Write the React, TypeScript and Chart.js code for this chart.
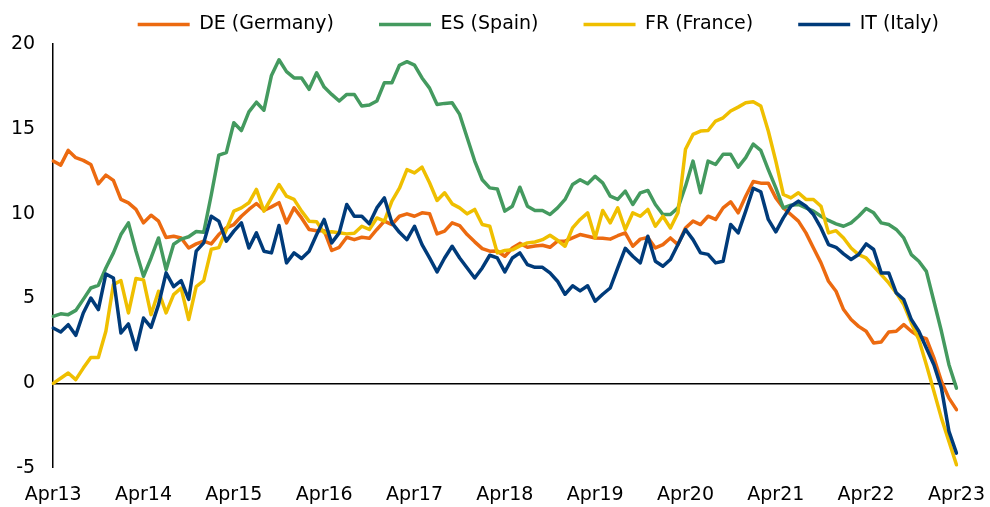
import React, { useEffect, useRef } from 'react';
import { Chart, registerables } from 'chart.js';

Chart.register(...registerables);

const monthNames = ['Jan', 'Feb', 'Mar', 'Apr', 'May', 'Jun', 'Jul', 'Aug', 'Sep', 'Oct', 'Nov', 'Dec'];
const startYear = 13;
const startMonthIndex = 3; // April
const monthCount = 121;

const categories: string[] = [];
for (let i = 0; i < monthCount; i++) {
  const m = startMonthIndex + i;
  categories.push(monthNames[m % 12] + (startYear + Math.floor(m / 12)));
}

const tickLabels = ['Apr13', 'Apr14', 'Apr15', 'Apr16', 'Apr17', 'Apr18', 'Apr19', 'Apr20', 'Apr21', 'Apr22', 'Apr23'];

const seriesNames = ['DE (Germany)', 'ES (Spain)', 'FR (France)', 'IT (Italy)'];
const seriesColors = ['#EC6A10', '#449A5F', '#EFBF00', '#003B7A'];

const deValues = [
  13.1, 12.86, 13.73, 13.3, 13.14, 12.9, 11.76, 12.27, 11.96, 10.84,
  10.64, 10.25, 9.46, 9.91, 9.56, 8.6, 8.67, 8.57, 7.98, 8.22,
  8.38, 8.22, 8.77, 9.16, 9.36, 9.85, 10.25, 10.6, 10.2, 10.4,
  10.65, 9.46, 10.34, 9.75, 9.07, 9.0, 9.0, 7.83, 8.02, 8.61,
  8.47, 8.61, 8.55, 9.07, 9.56, 9.36, 9.85, 9.99, 9.85, 10.05,
  10.0, 8.81, 8.97, 9.46, 9.3, 8.77, 8.34, 7.94, 7.79, 7.8,
  7.49, 7.98, 8.25, 8.02, 8.1, 8.14, 8.02, 8.38, 8.38, 8.57,
  8.77, 8.67, 8.57, 8.55, 8.5, 8.7, 8.87, 8.08, 8.5, 8.6,
  7.98, 8.18, 8.57, 8.18, 9.16, 9.56, 9.36, 9.85, 9.66, 10.34,
  10.7, 10.05, 11.03, 11.9, 11.8, 11.8, 10.93, 10.34, 9.95, 9.56,
  8.87, 7.98, 7.1, 6.02, 5.43, 4.35, 3.76, 3.36, 3.07, 2.38,
  2.44, 3.03, 3.07, 3.46, 3.07, 2.77, 2.63, 1.5, 0.12, -0.87,
  -1.55,
];

const esValues = [
  3.95, 4.1, 4.05, 4.3, 4.95, 5.62, 5.78, 6.8, 7.69, 8.77,
  9.46, 7.79, 6.31, 7.39, 8.57, 6.7, 8.2, 8.5, 8.64, 8.95,
  8.9, 11.1, 13.45, 13.6, 15.36, 14.9, 16.0, 16.57, 16.1, 18.15,
  19.07, 18.37, 18.0, 18.0, 17.33, 18.3, 17.46, 17.03, 16.64, 17.03,
  17.03, 16.34, 16.4, 16.64, 17.72, 17.72, 18.75, 18.96, 18.76, 18.0,
  17.4, 16.44, 16.5, 16.54, 15.85, 14.47, 13.1, 12.0, 11.52, 11.46,
  10.15, 10.44, 11.56, 10.44, 10.19, 10.19, 9.95, 10.34, 10.84, 11.72,
  12.0, 11.76, 12.2, 11.82, 11.03, 10.84, 11.33, 10.54, 11.23, 11.37,
  10.54, 9.95, 9.95, 10.34, 11.62, 13.1, 11.23, 13.1, 12.9, 13.5,
  13.5, 12.74, 13.3, 14.1, 13.73, 12.6, 11.52, 10.34, 10.5, 10.54,
  10.34, 10.15, 9.85, 9.6, 9.4, 9.26, 9.46, 9.85, 10.3, 10.05,
  9.46, 9.36, 9.07, 8.57, 7.59, 7.2, 6.6, 4.84, 3.07, 1.1,
  -0.28,
];

const frValues = [
  0.0, 0.3, 0.61, 0.22, 0.9, 1.53, 1.53, 3.07, 5.82, 6.06,
  4.15, 6.18, 6.1, 4.05, 5.43, 4.15, 5.23, 5.62, 3.76, 5.7,
  6.05, 7.9, 8.0, 9.05, 10.15, 10.34, 10.64, 11.43, 10.15, 10.93,
  11.72, 11.03, 10.84, 10.15, 9.56, 9.53, 8.87, 8.93, 8.87, 8.81,
  8.85, 9.26, 9.07, 9.75, 9.56, 10.74, 11.5, 12.6, 12.4, 12.74,
  11.82, 10.78, 11.23, 10.58, 10.34, 9.99, 10.25, 9.36, 9.26, 7.69,
  7.83, 7.87, 8.1, 8.28, 8.33, 8.47, 8.73, 8.43, 8.08, 9.16,
  9.66, 10.05, 8.57, 10.19, 9.46, 10.34, 9.07, 10.05, 9.85, 10.25,
  9.26, 9.85, 9.16, 10.05, 13.8, 14.67, 14.87, 14.9, 15.46, 15.65,
  16.05, 16.28, 16.54, 16.6, 16.34, 14.87, 13.1, 11.13, 10.93, 11.23,
  10.84, 10.84, 10.44, 8.87, 9.0, 8.57, 7.98, 7.59, 7.39, 6.9,
  6.41, 5.92, 5.33, 4.64, 3.56, 2.58, 1.1, -0.47, -2.05, -3.42,
  -4.8,
];

const itValues = [
  3.26, 3.03, 3.46, 2.83, 4.15, 5.03, 4.35, 6.45, 6.21, 2.97,
  3.5, 1.99, 3.85, 3.3, 4.64, 6.51, 5.7, 6.05, 4.95, 7.79,
  8.28, 9.85, 9.56, 8.38, 8.97, 9.46, 7.98, 8.87, 7.79, 7.69,
  9.3, 7.1, 7.69, 7.36, 7.79, 8.77, 9.66, 8.28, 8.87, 10.54,
  9.85, 9.85, 9.4, 10.34, 10.93, 9.46, 8.9, 8.47, 9.26, 8.18,
  7.39, 6.57, 7.39, 8.08, 7.39, 6.8, 6.21, 6.8, 7.55, 7.39,
  6.57, 7.39, 7.69, 7.0, 6.84, 6.84, 6.51, 6.02, 5.25, 5.75,
  5.45, 5.75, 4.84, 5.25, 5.62, 6.8, 7.96, 7.49, 7.1, 8.67,
  7.2, 6.9, 7.3, 8.18, 9.07, 8.47, 7.69, 7.6, 7.1, 7.2,
  9.36, 8.87, 10.15, 11.5, 11.29, 9.66, 8.93, 9.75, 10.44, 10.74,
  10.44, 9.95, 9.16, 8.18, 8.02, 7.63, 7.3, 7.59, 8.22, 7.89,
  6.51, 6.51, 5.33, 4.94, 3.76, 3.07, 2.08, 1.1, -0.28, -2.83,
  -4.11,
];

const seriesValues = [deValues, esValues, frValues, itValues];

const FONT_FAMILY = '"DejaVu Sans", sans-serif';

export default function App() {
  const canvasRef = useRef<HTMLCanvasElement>(null);

  useEffect(() => {
    const canvas = canvasRef.current;
    if (!canvas) return;

    const datasets = seriesNames.map((name, i) => ({
      label: name,
      data: seriesValues[i],
      borderColor: seriesColors[i],
      backgroundColor: seriesColors[i],
      borderWidth: 3.5,
      borderCapStyle: 'round' as const,
      borderJoinStyle: 'round' as const,
      pointRadius: 0,
      pointHoverRadius: 0,
      tension: 0,
      fill: false,
      order: seriesNames.length - i,
    }));

    const chart = new Chart(canvas, {
      type: 'line',
      data: { labels: categories, datasets },
      options: {
        responsive: false,
        animation: false,
        events: [],
        layout: { padding: { top: -30, right: 6, left: 5, bottom: -4 } },
        plugins: {
          legend: {
            position: 'top',
            align: 'end',
            labels: {
              usePointStyle: true,
              pointStyle: 'line',
              pointStyleWidth: 52,
              padding: 45,
              color: '#000',
              font: { family: FONT_FAMILY, size: 19 },
              sort: (a: any, b: any) => a.datasetIndex - b.datasetIndex,
            },
          },
          tooltip: { enabled: false },
        },
        scales: {
          x: {
            type: 'category',
            grid: {
              display: true,
              drawOnChartArea: false,
              drawTicks: true,
              tickLength: 10,
              tickColor: 'rgba(0,0,0,0)',
              color: 'rgba(0,0,0,0)',
            },
            border: { display: false },
            ticks: {
              autoSkip: false,
              maxRotation: 0,
              minRotation: 0,
              padding: 5,
              color: '#000',
              font: { family: FONT_FAMILY, size: 19 },
              callback: (_v: any, i: number) => {
                const l = categories[i];
                return tickLabels.includes(l) ? l : null;
              },
            },
          },
          y: {
            min: -5,
            max: 20,
            ticks: {
              stepSize: 5,
              padding: 6,
              color: '#000',
              font: { family: FONT_FAMILY, size: 19 },
            },
            grid: {
              drawTicks: true,
              tickLength: 12,
              tickColor: 'rgba(0,0,0,0)',
              color: (ctx: any) => (ctx.tick && ctx.tick.value === 0 ? '#000' : 'rgba(0,0,0,0)'),
              lineWidth: (ctx: any) => (ctx.tick && ctx.tick.value === 0 ? 1.5 : 0),
            },
            border: { display: true, color: '#000', width: 1.5 },
          },
        },
      },
    });

    return () => chart.destroy();
  }, []);

  return (
    <div style={{ position: 'absolute', left: 0, top: 0, width: 990, height: 507, background: '#fff' }}>
      <canvas ref={canvasRef} width={990} height={507} style={{ display: 'block', width: 990, height: 507 }} />
    </div>
  );
}
